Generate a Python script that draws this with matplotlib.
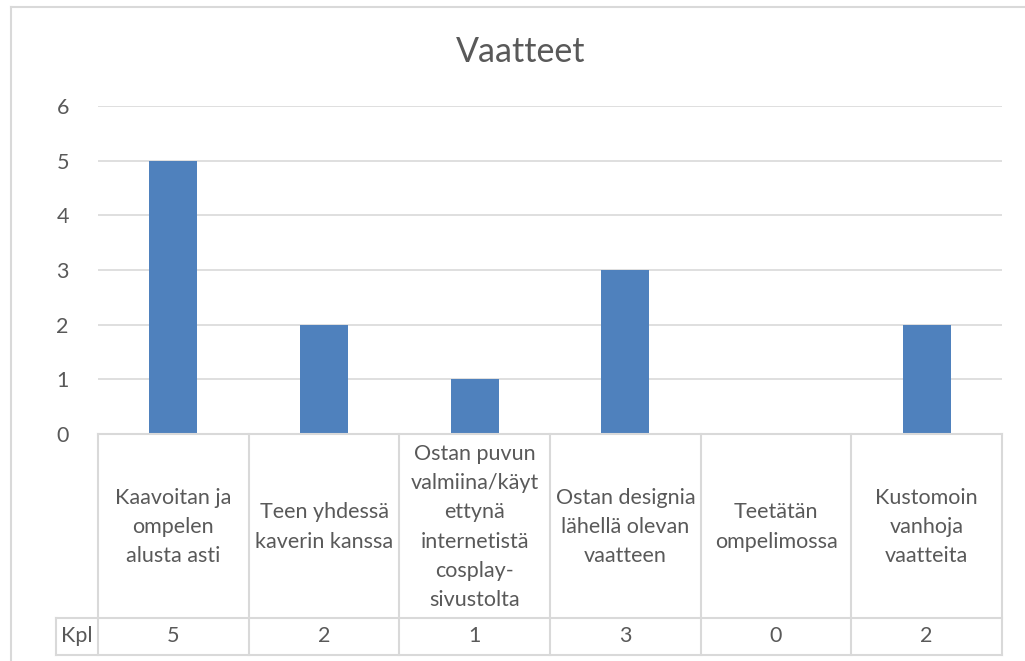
import matplotlib.pyplot as plt
from matplotlib.transforms import blended_transform_factory

plt.rcParams['font.family'] = ['Lato', 'DejaVu Sans']

categories = ['Kaavoitan ja\nompelen\nalusta asti',
              'Teen yhdessä\nkaverin kanssa',
              'Ostan puvun\nvalmiina/käyt\nettynä\ninternetistä\ncosplay-\nsivustolta',
              'Ostan designia\nlähellä olevan\nvaatteen',
              'Teetätän\nompelimossa',
              'Kustomoin\nvanhoja\nvaatteita']
values = [5, 2, 1, 3, 0, 2]
series_name = 'Kpl'
yticks = [0, 1, 2, 3, 4, 5, 6]

text_col = '#595959'
grid_col = '#d9d9d9'
bar_col = '#4f81bd'

W, H = 1025, 661
fig = plt.figure(figsize=(W / 100, H / 100), dpi=100)

# plot area in pixels
x0, x1 = 98, 1002
y_top, y_zero = 106, 434
row1, row2 = 618, 655
kpl_left = 56
fs = 15.5

ax = fig.add_axes([x0 / W, 1 - y_zero / H, (x1 - x0) / W, (y_zero - y_top) / H])
xs = range(len(values))
ax.bar(xs, values, width=0.32, color=bar_col, zorder=3)
ax.set_xlim(-0.5, len(values) - 0.5)
ax.set_ylim(0, 6)
ax.set_yticks(yticks)
ax.set_yticklabels([str(t) for t in yticks], fontsize=fs, color=text_col)
ax.tick_params(axis='y', length=0, pad=21)
ax.set_xticks([])
ax.grid(axis='y', color=grid_col, linewidth=1.2, zorder=0)
for s in ax.spines.values():
    s.set_visible(False)

# data table below the axis
def fy(py):
    return 1 - py / H

def fx(px):
    return px / W

col_w = (x1 - x0) / len(values)
lc = dict(color=grid_col, linewidth=1.5, transform=fig.transFigure)
fig.add_artist(plt.Line2D([fx(x0), fx(x1)], [fy(y_zero), fy(y_zero)], **lc))
fig.add_artist(plt.Line2D([fx(kpl_left), fx(x1)], [fy(row1), fy(row1)], **lc))
fig.add_artist(plt.Line2D([fx(kpl_left), fx(x1)], [fy(row2), fy(row2)], **lc))
fig.add_artist(plt.Line2D([fx(kpl_left), fx(kpl_left)], [fy(row1), fy(row2)], **lc))
for i in range(len(values) + 1):
    xp = x0 + i * col_w
    fig.add_artist(plt.Line2D([fx(xp), fx(xp)], [fy(y_zero), fy(row2)], **lc))

tr = blended_transform_factory(ax.transData, fig.transFigure)
for i, (c, v) in enumerate(zip(categories, values)):
    ax.text(i, fy((y_zero + row1) / 2 + 1), c, transform=tr, ha='center', va='center',
            fontsize=fs, color=text_col, linespacing=1.58, clip_on=False)
    ax.text(i, fy((row1 + row2) / 2), str(v), transform=tr, ha='center', va='center',
            fontsize=fs, color=text_col, clip_on=False)
fig.text(fx((kpl_left + x0) / 2), fy((row1 + row2) / 2), series_name, ha='center',
         va='center', fontsize=fs, color=text_col)

# chart border
fig.add_artist(plt.Line2D([fx(11), fx(11)], [fy(7), 0], **lc))
fig.add_artist(plt.Line2D([fx(11), 1], [fy(7), fy(7)], **lc))

fig.text(fx(521), fy(52), 'Vaatteet', ha='center', va='center', fontsize=24.5, color=text_col)

fig.savefig('out.png', dpi=100)
